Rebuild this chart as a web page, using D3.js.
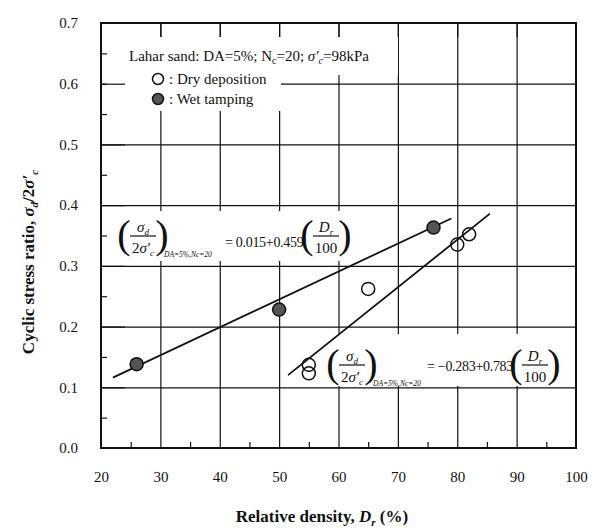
<!DOCTYPE html>
<html>
<head>
<meta charset="utf-8">
<script src="https://cdn.jsdelivr.net/npm/d3@7"></script>
<style>
  body { margin: 0; background: #fff; }
  svg, svg text { font-family: "Liberation Serif", "Times New Roman", serif; }
</style>
</head>
<body>
<div id="chart"></div>
<script>
// relative density (%) and cyclic stress ratio
var dryDr = [55, 55, 65, 80, 82];
var dryCsr = [0.137, 0.123, 0.262, 0.335, 0.352];
var wetDr = [26, 50, 76];
var wetCsr = [0.138, 0.228, 0.363];

// fitted lines, end points as drawn
var wetFit = [[22, 0.116], [79, 0.378]];
var dryFit = [[51.5, 0.120], [85.5, 0.386]];

var xTicks = [20, 30, 40, 50, 60, 70, 80, 90, 100];
var yTicks = [0.0, 0.1, 0.2, 0.3, 0.4, 0.5, 0.6, 0.7];
var xMinor = [25, 35, 45, 55, 65, 75, 85, 95];
var yMinor = [0.05, 0.15, 0.25, 0.35, 0.45, 0.55, 0.65];

var W = 592, H = 531;
var margin = {top: 23, right: 16, bottom: 83, left: 101};
var w = W - margin.left - margin.right;
var h = H - margin.top - margin.bottom;

var svg = d3.select('#chart').append('svg')
  .attr('width', W)
  .attr('height', H)
  .attr('font-family', '"Liberation Serif", "Times New Roman", serif');

var g = svg.append('g')
  .attr('transform', 'translate(' + margin.left + ',' + margin.top + ')');

var x = d3.scaleLinear().domain([20, 100]).range([0, w]);
var y = d3.scaleLinear().domain([0, 0.7]).range([h, 0]);

// grid
g.append('g')
  .attr('class', 'grid')
  .attr('transform', 'translate(0,' + h + ')')
  .call(d3.axisBottom(x).tickValues(xTicks.slice(1, -1)).tickSize(-h).tickFormat(''))
  .call(function(s) { s.select('.domain').remove(); });
g.append('g')
  .attr('class', 'grid')
  .call(d3.axisLeft(y).tickValues(yTicks.slice(1, -1)).tickSize(-w).tickFormat(''))
  .call(function(s) { s.select('.domain').remove(); });
g.selectAll('.grid line').attr('stroke', '#111').attr('stroke-width', 1.2);

// white patches behind the annotations
var boxes = [
  [5, 14, 292, 38],   // legend title line
  [5, 50, 175, 38],   // legend rows
  [12, 188, 240, 50], // upper equation
  [227, 311, 240, 52] // lower equation
];
g.selectAll('rect.bg')
  .data(boxes)
  .enter().append('rect')
  .attr('class', 'bg')
  .attr('x', function(d) { return d[0]; })
  .attr('y', function(d) { return d[1]; })
  .attr('width', function(d) { return d[2]; })
  .attr('height', function(d) { return d[3]; })
  .attr('fill', '#fff');

// short ticks along top so the grid still reads at the frame
g.append('g')
  .call(d3.axisTop(x).tickValues(xTicks.slice(1, -1)).tickSize(-14).tickFormat(''))
  .call(function(s) { s.select('.domain').remove(); });
g.append('g')
  .call(d3.axisLeft(y).tickValues(yTicks.slice(1, -1)).tickSize(-24).tickFormat(''))
  .call(function(s) { s.select('.domain').remove(); });

// minor ticks
g.append('g')
  .attr('transform', 'translate(0,' + h + ')')
  .call(d3.axisBottom(x).tickValues(xMinor).tickSize(-6).tickFormat(''))
  .call(function(s) { s.select('.domain').remove(); });
g.append('g')
  .call(d3.axisLeft(y).tickValues(yMinor).tickSize(-6).tickFormat(''))
  .call(function(s) { s.select('.domain').remove(); });

// tick labels
var xAxis = g.append('g')
  .attr('transform', 'translate(0,' + h + ')')
  .call(d3.axisBottom(x).tickValues(xTicks).tickSize(0).tickPadding(23).tickFormat(d3.format('d')));
var yAxis = g.append('g')
  .call(d3.axisLeft(y).tickValues(yTicks).tickSize(0).tickPadding(23).tickFormat(d3.format('.1f')));
[xAxis, yAxis].forEach(function(a) {
  a.attr('font-family', null).attr('font-size', null);
  a.select('.domain').remove();
  a.selectAll('text')
    .style('font-size', '15px')
    .attr('fill', '#111');
});

g.selectAll('.tick line').attr('stroke', '#111').attr('stroke-width', 1.2);

// frame
g.append('rect')
  .attr('width', w)
  .attr('height', h)
  .attr('fill', 'none')
  .attr('stroke', '#111')
  .attr('stroke-width', 2);

// fitted lines
var line = d3.line()
  .x(function(d) { return x(d[0]); })
  .y(function(d) { return y(d[1]); });
[wetFit, dryFit].forEach(function(f) {
  g.append('path')
    .attr('d', line(f))
    .attr('fill', 'none')
    .attr('stroke', '#111')
    .attr('stroke-width', 1.8);
});

// points
g.selectAll('circle.dry')
  .data(dryDr)
  .enter().append('circle')
  .attr('class', 'dry')
  .attr('cx', function(d) { return x(d); })
  .attr('cy', function(d, i) { return y(dryCsr[i]); })
  .attr('r', 6.5)
  .attr('fill', 'none')
  .attr('stroke', '#111')
  .attr('stroke-width', 1.5);
g.selectAll('circle.wet')
  .data(wetDr)
  .enter().append('circle')
  .attr('class', 'wet')
  .attr('cx', function(d) { return x(d); })
  .attr('cy', function(d, i) { return y(wetCsr[i]); })
  .attr('r', 6.5)
  .attr('fill', '#555')
  .attr('stroke', '#111')
  .attr('stroke-width', 1.5);

// legend
var leg = g.append('g').attr('font-size', 15).attr('fill', '#111');
var t1 = leg.append('text').attr('x', 28).attr('y', 38);
t1.append('tspan').text('Lahar sand: DA=5%; N');
t1.append('tspan').attr('font-size', 10).attr('dy', 3).text('c');
t1.append('tspan').attr('dy', -3).text('=20; ');
t1.append('tspan').attr('font-style', 'italic').text('σ′');
t1.append('tspan').attr('font-style', 'italic').attr('font-size', 10).attr('dy', 3).text('c');
t1.append('tspan').attr('dy', -3).text('=98kPa');

leg.append('circle').attr('cx', 57).attr('cy', 56).attr('r', 5.5)
  .attr('fill', '#fff').attr('stroke', '#111').attr('stroke-width', 1.5);
leg.append('text').attr('x', 68).attr('y', 61).text(': Dry deposition');
leg.append('circle').attr('cx', 57).attr('cy', 76).attr('r', 5.5)
  .attr('fill', '#555').attr('stroke', '#111').attr('stroke-width', 1.5);
leg.append('text').attr('x', 68).attr('y', 81).text(': Wet tamping');

// equation blocks
function fraction(sel, cx, cy, top, bottom) {
  sel.append('text').attr('x', cx - 19).attr('y', cy + 11)
    .attr('font-size', 40).attr('font-weight', 100).attr('text-anchor', 'middle').text('(');
  sel.append('text').attr('x', cx + 19).attr('y', cy + 11)
    .attr('font-size', 40).attr('font-weight', 100).attr('text-anchor', 'middle').text(')');
  sel.append('line').attr('x1', cx - 13).attr('x2', cx + 13)
    .attr('y1', cy - 1).attr('y2', cy - 1).attr('stroke', '#111').attr('stroke-width', 1.2);
  var n = sel.append('text').attr('x', cx).attr('y', cy - 5).attr('text-anchor', 'middle');
  top(n);
  var d = sel.append('text').attr('x', cx).attr('y', cy + 16).attr('text-anchor', 'middle');
  bottom(d);
}
function sigmaD(t) {
  t.append('tspan').attr('font-style', 'italic').text('σ');
  t.append('tspan').attr('font-style', 'italic').attr('font-size', 9).attr('dy', 3).text('d');
}
function twoSigmaC(t) {
  t.append('tspan').text('2');
  t.append('tspan').attr('font-style', 'italic').text('σ′');
  t.append('tspan').attr('font-style', 'italic').attr('font-size', 9).attr('dy', 3).text('c');
}
function dR(t) {
  t.append('tspan').attr('font-style', 'italic').text('D');
  t.append('tspan').attr('font-style', 'italic').attr('font-size', 9).attr('dy', 3).text('r');
}
function hundred(t) { t.text('100'); }

function equation(ox, oy, rhs, rhsX, rhsY, frX) {
  var e = g.append('g').attr('font-size', 15).attr('fill', '#111');
  fraction(e, ox, oy, sigmaD, twoSigmaC);
  e.append('text').attr('x', ox + 21).attr('y', oy + 20)
    .attr('font-size', 7.5).attr('font-style', 'italic').text('DA=5%,Nc=20');
  e.append('text').attr('x', rhsX).attr('y', rhsY)
    .attr('font-size', 14).attr('letter-spacing', -0.3).text(rhs);
  fraction(e, frX, oy, dR, hundred);
}
equation(42, 214, '= 0.015+0.459', 124, 224, 225);
equation(251, 343, '= \u22120.283+0.783', 326, 348, 434);

// axis titles
var xt = svg.append('text')
  .attr('x', 322).attr('y', 522)
  .attr('text-anchor', 'middle')
  .attr('font-size', 17).attr('font-weight', 'bold').attr('fill', '#111');
xt.append('tspan').text('Relative density, ');
xt.append('tspan').attr('font-style', 'italic').text('D');
xt.append('tspan').attr('font-style', 'italic').attr('font-size', 11).attr('dy', 4).text('r');
xt.append('tspan').attr('dy', -4).text(' (%)');

var yt = svg.append('text')
  .attr('transform', 'translate(34,262) rotate(-90)')
  .attr('text-anchor', 'middle')
  .attr('font-size', 17).attr('font-weight', 'bold').attr('fill', '#111');
yt.append('tspan').text('Cyclic stress ratio, ');
yt.append('tspan').attr('font-style', 'italic').text('σ');
yt.append('tspan').attr('font-style', 'italic').attr('font-size', 11).attr('dy', 4).text('d');
yt.append('tspan').attr('dy', -4).text('/2');
yt.append('tspan').attr('font-style', 'italic').text('σ′');
yt.append('tspan').attr('font-style', 'italic').attr('font-size', 11).attr('dy', 4).text('c');
</script>
</body>
</html>
